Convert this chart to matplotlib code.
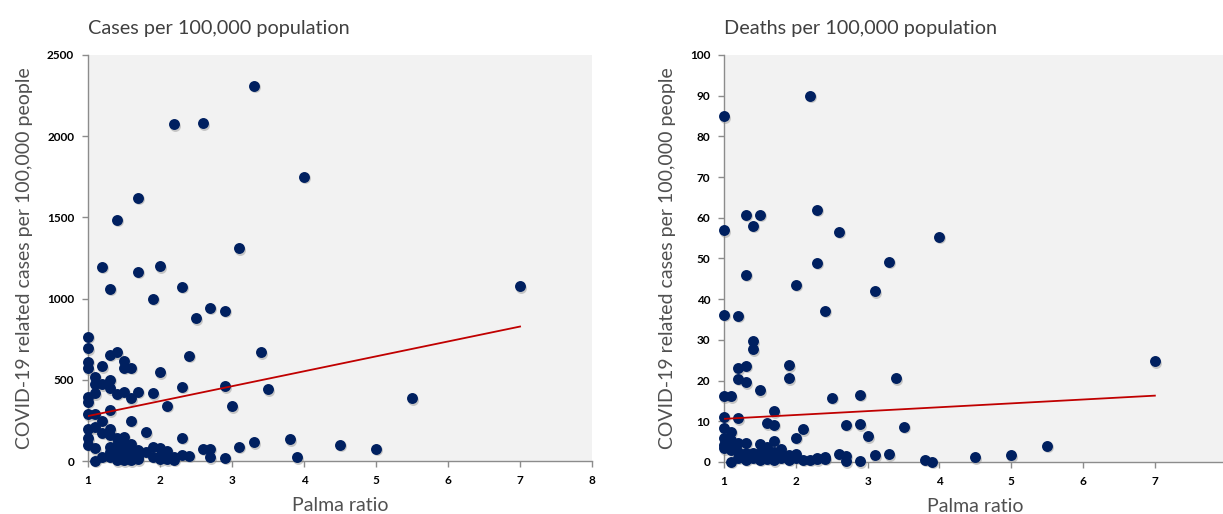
import matplotlib
matplotlib.use("Agg")
import matplotlib.pyplot as plt
import matplotlib.transforms as mtransforms

plt.rcParams['font.family'] = ['Lato', 'DejaVu Sans']

# cases per 100,000 vs Palma ratio
cases_x = [3.3, 2.2, 2.6, 4.0, 1.7, 1.4, 3.1, 1.2, 2.0, 1.7, 7.0, 2.3, 1.3, 1.9, 2.7, 2.9, 2.5,
           1.0, 1.0, 1.3, 1.4, 2.4, 3.4, 1.0, 1.0, 1.2, 1.5, 1.5, 1.6, 2.0, 1.1, 1.3, 1.1, 1.2,
           1.3, 2.9, 2.3, 3.5, 1.1, 1.4, 1.5, 1.7, 1.9, 1.6, 1.0, 1.0, 2.1, 3.0, 1.1, 1.3, 1.0,
           1.2, 1.6, 1.0, 1.1, 1.2, 1.3, 1.3, 1.8, 1.0, 1.0, 1.1, 1.4, 1.5, 2.3, 1.4, 1.5, 1.6,
           1.3, 3.3, 3.8, 3.1, 2.6, 2.7, 1.7, 1.8, 1.9, 2.0, 2.1, 1.3, 1.4, 1.5, 1.6, 1.2, 1.3,
           1.4, 1.5, 1.6, 1.7, 1.9, 2.0, 2.1, 2.2, 2.3, 2.4, 1.1, 1.4, 1.5, 1.6, 1.7, 2.0, 2.1,
           2.2, 2.7, 2.9, 3.9, 5.5, 4.5, 5.0]
cases_y = [2310, 2075, 2080, 1750, 1620, 1485, 1310, 1195, 1200, 1165, 1075, 1072, 1060, 1000,
           945, 924, 880, 765, 694, 653, 669, 648, 669, 611, 571, 583, 616, 575, 575, 546, 519,
           499, 474, 472, 448, 460, 456, 441, 417, 413, 427, 425, 417, 386, 396, 365, 341, 337,
           288, 314, 288, 248, 248, 195, 207, 174, 195, 160, 177, 140, 99, 78, 140, 150, 144,
           99, 99, 105, 88, 115, 134, 88, 74, 74, 68, 58, 84, 78, 63, 58, 58, 55, 58, 26, 26,
           26, 26, 26, 26, 26, 30, 26, 26, 37, 33, 2, 5, 5, 5, 10, 10, 10, 8, 23, 20, 23, 386,
           99, 74]

# deaths per 100,000 vs Palma ratio
deaths_x = [2.2, 1.0, 1.3, 1.5, 1.4, 2.3, 1.0, 2.6, 4.0, 1.3, 2.3, 3.3, 2.0, 3.1, 2.4, 1.0, 1.2,
            1.4, 1.4, 1.2, 1.3, 1.9, 1.2, 1.3, 1.9, 3.4, 1.5, 1.0, 1.1, 2.5, 2.9, 7.0, 3.5, 3.8,
            3.9, 4.5, 5.0, 5.5, 2.7, 2.9, 3.0, 2.4, 2.3, 2.6, 2.7, 2.7, 2.9, 3.1, 3.3, 1.0, 1.2,
            1.7, 1.6, 1.7, 2.1, 2.0, 1.0, 1.0, 1.1, 1.1, 1.0, 1.1, 1.0, 1.1, 1.2, 1.3, 1.5, 1.7,
            1.6, 1.8, 1.2, 1.3, 1.4, 1.5, 1.7, 1.8, 1.1, 1.2, 1.3, 1.4, 1.5, 1.6, 1.7, 1.8, 1.9,
            2.0, 2.1, 2.2, 2.3, 2.4, 2.0, 1.9, 1.4, 1.6]
deaths_y = [90, 85, 60.7, 60.8, 58, 62, 57, 56.6, 55.4, 46, 48.9, 49.2, 43.5, 42, 37.1, 36.2,
            35.9, 29.7, 27.7, 23, 23.6, 23.8, 20.4, 19.6, 20.6, 20.6, 17.6, 16.2, 16.2, 15.8,
            16.5, 24.8, 8.6, 0.6, 0.1, 1.2, 1.7, 4.0, 9.1, 9.3, 6.3, 0.8, 0.7, 2.0, 1.5, 0.2,
            0.2, 1.6, 1.9, 11.1, 10.7, 12.5, 9.5, 9.1, 8.1, 6.0, 8.3, 5.8, 7.4, 5.3, 4.2, 3.7,
            3.4, 3.0, 4.6, 4.7, 4.3, 5.2, 3.6, 3.1, 2.5, 2.2, 2.3, 2.2, 2.5, 2.2, 0.0, 1.0, 0.6,
            1.0, 0.6, 0.8, 0.4, 1.0, 0.6, 1.0, 0.6, 0.6, 1.0, 1.2, 1.9, 1.8, 1.5, 1.5]

# trend line end points as drawn
trend_x = [1, 7]
cases_trend = [277, 828]
deaths_trend = [10.6, 16.3]

titles = ["Cases per 100,000 population", "Deaths per 100,000 population"]
ylabel = "COVID-19 related cases per 100,000 people"
xlabel = "Palma ratio"

navy = "#002060"
red = "#c00000"
grey_txt = "#505050"

fig = plt.figure(figsize=(12.23, 5.14), dpi=100)
ax1 = fig.add_axes([0.0720, 0.1031, 0.4121, 0.7899])
ax2 = fig.add_axes([0.5920, 0.1012, 0.4110, 0.7918])

panels = [(ax1, cases_x, cases_y, cases_trend, 2500, 500),
          (ax2, deaths_x, deaths_y, deaths_trend, 100, 10)]

for i, (ax, xs, ys, tr, ymax, step) in enumerate(panels):
    ax.set_facecolor("#f2f2f2")
    shadow = ax.transData + mtransforms.ScaledTranslation(1 / 100, -1.5 / 100, fig.dpi_scale_trans)
    ax.scatter(xs, ys, s=62, color="#9a9a9a", alpha=0.5, linewidths=0, transform=shadow,
               clip_on=False, zorder=2)
    ax.scatter(xs, ys, s=62, color=navy, linewidths=0, clip_on=False, zorder=3)
    ax.plot(trend_x, tr, color=red, lw=1.3, zorder=4)
    ax.set_xlim(1, 8)
    ax.set_ylim(0, ymax)
    ax.set_xticks(range(1, 9))
    ax.set_yticks(range(0, ymax + 1, step))
    for s in ["top", "right"]:
        ax.spines[s].set_visible(False)
    for s in ["left", "bottom"]:
        ax.spines[s].set_color("#8c8c8c")
        ax.spines[s].set_linewidth(1.0)
    ax.tick_params(direction="out", length=4, width=1, color="#8c8c8c",
                   labelsize=8.5, pad=6)
    for lab in ax.get_xticklabels() + ax.get_yticklabels():
        lab.set_fontweight("bold")
    ax.set_xlabel(xlabel, fontsize=14, color=grey_txt, labelpad=8)
    ax.set_ylabel(ylabel, fontsize=14, color=grey_txt, labelpad=10)
    ax.set_title(titles[i], fontsize=14.3, color="#404040", loc="left", pad=15)

fig.savefig("out.png", dpi=100)
